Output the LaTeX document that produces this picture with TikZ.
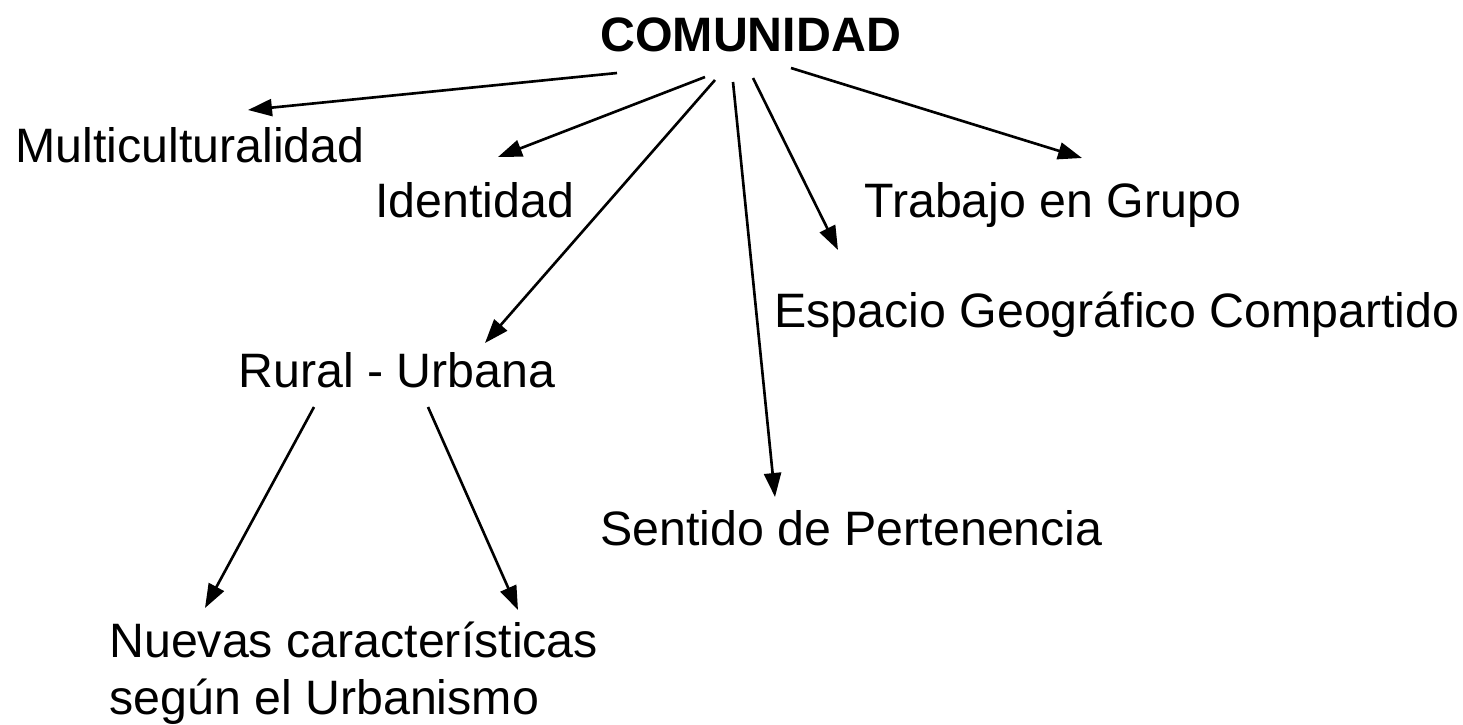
\documentclass[tikz,border=0pt]{standalone}
\usepackage{fontspec}
\setmainfont{Liberation Sans}
\usetikzlibrary{arrows.meta}
\begin{document}
\begin{tikzpicture}[
x=0.02cm,y=-0.02cm,
every node/.style={inner sep=0pt,anchor=base west,font=\fontsize{27.5}{32}\selectfont},
link/.style={-{Triangle[length=4.8mm,width=3.4mm]},line width=1.5pt}
]
\useasboundingbox (0,0) rectangle (1463,724);
\node[font=\fontsize{27.5}{32}\selectfont\bfseries] (com) at (600,51) {COMUNIDAD};
\node (multi) at (15,162) {Multiculturalidad};
\node (iden) at (375,217) {Identidad};
\node (trab) at (864,217) {Trabajo en Grupo};
\node (esp) at (774,327) {Espacio Geográfico Compartido};
\node (rural) at (238,387) {Rural - Urbana};
\node (sent) at (600,545) {Sentido de Pertenencia};
\node[align=left] (nuevas) at (109,714) {Nuevas características\\según el Urbanismo};
% ends of the arrows
\coordinate (c1) at (617,73);  \coordinate (m1) at (248,110);
\coordinate (c2) at (705,77);  \coordinate (i1) at (498,157);
\coordinate (c3) at (715,80);  \coordinate (r1) at (485,343);
\coordinate (c4) at (733,82);  \coordinate (s1) at (775,497);
\coordinate (c5) at (753,78);  \coordinate (e1) at (838,250);
\coordinate (c6) at (791,68);  \coordinate (t1) at (1082,158);
\coordinate (r2) at (314,407); \coordinate (n1) at (205,608);
\coordinate (r3) at (428,407); \coordinate (n2) at (518,610);
\draw[link] (c1)--(m1);
\draw[link] (c2)--(i1);
\draw[link] (c3)--(r1);
\draw[link] (c4)--(s1);
\draw[link] (c5)--(e1);
\draw[link] (c6)--(t1);
\draw[link] (r2)--(n1);
\draw[link] (r3)--(n2);
\end{tikzpicture}
\end{document}
